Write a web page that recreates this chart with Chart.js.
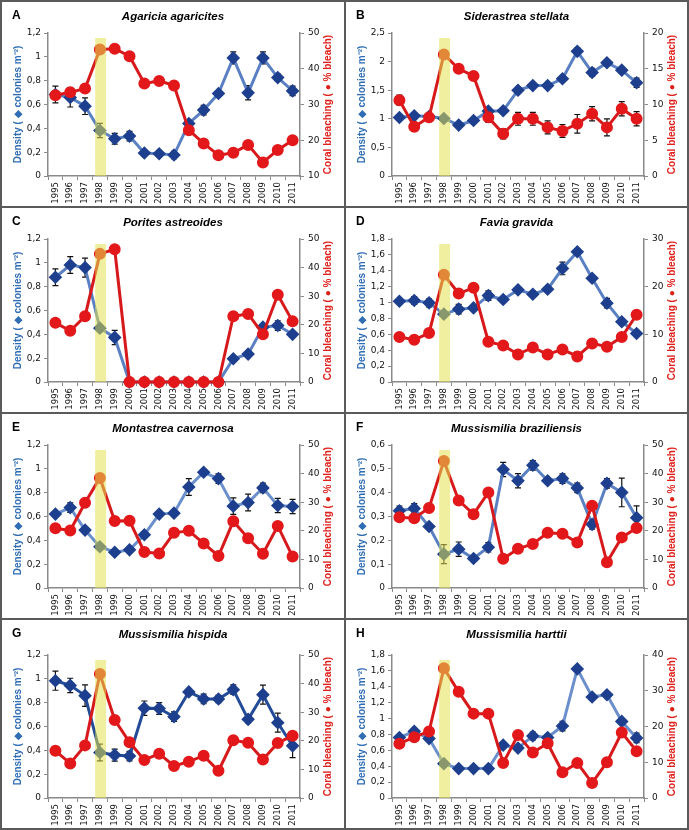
<!DOCTYPE html>
<html>
<head>
<meta charset="utf-8">
<script src="https://cdn.jsdelivr.net/npm/chart.js@4.4.0/dist/chart.umd.min.js"></script>
<style>
  html, body { margin: 0; padding: 0; background: #fff; }
  #wrap { position: relative; width: 689px; height: 830px; overflow: hidden; }
  .ln { position: absolute; background: #5a5a5a; }
  canvas { position: absolute; }
</style>
</head>
<body>
<div id="wrap"></div>
<script>
const years = ['1995','1996','1997','1998','1999','2000','2001','2002','2003','2004','2005','2006','2007','2008','2009','2010','2011'];

// A - Agaricia agaricites
const densA = [0.684,0.659,0.586,0.382,0.313,0.335,0.193,0.187,0.176,0.441,0.553,0.692,0.991,0.698,0.991,0.826,0.714];
const densErrA = [0.07,0.08,0.07,0.06,0.045,0.04,0.015,0.015,0.03,0.02,0.04,0.02,0.05,0.06,0.05,0.03,0.04];
const bleachA = [32.6,33.4,34.5,45.4,45.6,43.5,35.9,36.6,35.3,22.8,19.1,15.8,16.5,18.7,13.8,17.3,20.0];

// B - Siderastrea stellata
const densB = [1.023,1.052,1.04,1.006,0.89,0.97,1.134,1.14,1.5,1.58,1.58,1.70,2.18,1.81,1.98,1.85,1.63];
const densErrB = [0.03,0.05,0.06,0.05,0.03,0.03,0.05,0.04,0.03,0.04,0.02,0.04,0.06,0.07,0.05,0.05,0.08];
const bleachB = [10.6,6.9,8.2,17.0,15.0,14.0,8.2,5.9,8.0,8.0,6.8,6.3,7.3,8.7,6.8,9.4,8.0];
const bleachErrB = [0.7,0.6,0.6,0.5,0.4,0.5,0.7,0.7,0.9,0.9,0.9,0.9,1.3,1.0,1.2,1.0,1.0];

// C - Porites astreoides
const densC = [0.879,0.982,0.96,0.452,0.374,0,0,0,0,0,0,0,0.195,0.234,0.46,0.474,0.40];
const densErrC = [0.07,0.07,0.08,0.03,0.06,0,0,0,0,0,0,0,0.01,0.01,0.02,0.04,0.02];
const bleachC = [20.7,17.9,23.0,44.8,46.4,0,0,0,0,0,0,0,23.0,23.8,16.7,30.5,21.2];

// D - Favia gravida
const densD = [1.017,1.026,0.996,0.854,0.917,0.933,1.088,1.038,1.16,1.105,1.168,1.43,1.64,1.306,0.992,0.758,0.611];
const densErrD = [0.03,0.05,0.05,0.02,0.06,0.03,0.06,0.03,0.02,0.04,0.02,0.08,0.03,0.02,0.06,0.02,0.01];
const bleachD = [9.42,8.86,10.26,22.5,18.56,19.75,8.44,7.68,5.79,7.26,5.79,6.84,5.37,8.1,7.4,9.42,14.1];
const bleachErrD = [0.5,0.6,0.5,0,0,0,0.5,0.6,0.6,0.6,0.6,0.8,0.9,0.7,0.5,0,0];

// E - Montastrea cavernosa
const densE = [0.62,0.675,0.486,0.346,0.30,0.32,0.447,0.62,0.628,0.848,0.971,0.918,0.687,0.717,0.84,0.692,0.684];
const densErrE = [0.01,0.04,0.02,0.02,0.02,0.02,0.01,0.02,0.01,0.07,0.01,0.04,0.07,0.07,0.04,0.06,0.06];
const bleachE = [20.9,20.1,29.8,38.5,23.4,23.5,12.6,12.1,19.3,20.0,15.6,11.2,23.3,17.4,12.0,21.7,11.0];

// F - Mussismilia braziliensis
const densF = [0.324,0.334,0.258,0.142,0.163,0.124,0.171,0.497,0.45,0.515,0.45,0.459,0.42,0.267,0.439,0.401,0.295];
const densErrF = [0.02,0.02,0.01,0.04,0.03,0.005,0.02,0.03,0.03,0.02,0.01,0.02,0.02,0.02,0.02,0.06,0.05];
const bleachF = [24.7,24.4,28.0,44.4,30.6,25.8,33.4,10.2,13.7,15.4,19.3,19.0,15.9,28.8,9.0,17.7,21.0];

// G - Mussismilia hispida
const densG = [0.984,0.945,0.859,0.382,0.36,0.352,0.754,0.751,0.682,0.89,0.831,0.831,0.909,0.66,0.867,0.632,0.438];
const densErrG = [0.08,0.06,0.09,0.07,0.05,0.04,0.06,0.05,0.04,0.01,0.04,0.03,0.04,0.03,0.08,0.08,0.1];
const bleachG = [16.5,12.1,18.4,43.4,27.3,19.5,13.3,15.5,11.2,12.7,14.8,9.5,20.2,19.3,13.5,19.2,21.8];

// H - Mussismilia harttii
const densH = [0.761,0.84,0.748,0.432,0.37,0.37,0.37,0.665,0.628,0.781,0.761,0.906,1.625,1.272,1.30,0.964,0.756];
const densErrH = [0.03,0.02,0.03,0.02,0.03,0.01,0.01,0.01,0.01,0.05,0.04,0.06,0.01,0.01,0.01,0.03,0.06];
const bleachH = [15.2,17.0,18.6,36.3,29.7,23.6,23.6,9.8,17.6,12.7,15.3,7.2,9.8,4.2,10.0,18.3,13.1];
const bleachErrH = [0,0,0,0,0,0,0,0,0,0,0,0,0.8,0.6,0.7,0,0];

const panels = [
  {letter:'A', name:'Agaricia agaricites', dens:densA, dErr:densErrA, bleach:bleachA, bErr:null, y:[0,1.2,0.2], y2:[10,50,10], line:'#5a80c3'},
  {letter:'B', name:'Siderastrea stellata', dens:densB, dErr:densErrB, bleach:bleachB, bErr:bleachErrB, y:[0,2.5,0.5], y2:[0,20,5], line:'#5a80c3'},
  {letter:'C', name:'Porites astreoides', dens:densC, dErr:densErrC, bleach:bleachC, bErr:null, y:[0,1.2,0.2], y2:[0,50,10], line:'#5a80c3'},
  {letter:'D', name:'Favia gravida', dens:densD, dErr:densErrD, bleach:bleachD, bErr:bleachErrD, y:[0,1.8,0.2], y2:[0,30,10], line:'#5a80c3'},
  {letter:'E', name:'Montastrea cavernosa', dens:densE, dErr:densErrE, bleach:bleachE, bErr:null, y:[0,1.2,0.2], y2:[0,50,10], line:'#6a8fcc'},
  {letter:'F', name:'Mussismilia braziliensis', dens:densF, dErr:densErrF, bleach:bleachF, bErr:null, y:[0,0.6,0.1], y2:[0,50,10], line:'#5a80c3'},
  {letter:'G', name:'Mussismilia hispida', dens:densG, dErr:densErrG, bleach:bleachG, bErr:null, y:[0,1.2,0.2], y2:[0,50,10], line:'#234b98'},
  {letter:'H', name:'Mussismilia harttii', dens:densH, dErr:densErrH, bleach:bleachH, bErr:bleachErrH, y:[0,1.8,0.2], y2:[0,40,10], line:'#6a8fcc'}
];

function fmt(v) {
  return String(Number(v.toFixed(2))).replace('.', ',');
}

const errPlugin = {
  id: 'errbars',
  beforeDatasetsDraw(chart) {
    const ctx = chart.ctx;
    ctx.save();
    ctx.strokeStyle = '#111';
    ctx.lineWidth = 1.2;
    chart.data.datasets.forEach((ds, i) => {
      const errs = ds.errs;
      if (!errs) return;
      const meta = chart.getDatasetMeta(i);
      const sc = chart.scales[ds.yAxisID];
      meta.data.forEach((pt, j) => {
        const e = errs[j];
        if (!e) return;
        const v = ds.data[j];
        const y1 = sc.getPixelForValue(v + e), y0 = sc.getPixelForValue(v - e);
        ctx.beginPath();
        ctx.moveTo(pt.x, y0); ctx.lineTo(pt.x, y1);
        ctx.moveTo(pt.x - 3, y0); ctx.lineTo(pt.x + 3, y0);
        ctx.moveTo(pt.x - 3, y1); ctx.lineTo(pt.x + 3, y1);
        ctx.stroke();
      });
    });
    ctx.restore();
  }
};

// yellow 1998 band, drawn over the lines like in the original
const bandPlugin = {
  id: 'band',
  afterDatasetsDraw(chart) {
    const x = chart.scales.x;
    const a = chart.chartArea;
    const step = x.getPixelForValue(1) - x.getPixelForValue(0);
    const cx = x.getPixelForValue(3) + step * 0.05;
    const ctx = chart.ctx;
    ctx.save();
    ctx.fillStyle = 'rgba(225,225,80,0.55)';
    ctx.fillRect(cx - step * 0.37, a.top + 5, step * 0.74, a.bottom - a.top - 5);
    ctx.restore();
  }
};

const textPlugin = {
  id: 'texts',
  afterDraw(chart, args, opts) {
    const ctx = chart.ctx;
    const a = chart.chartArea;
    const midY = (a.top + a.bottom) / 2;
    ctx.save();
    ctx.textBaseline = 'middle';
    ctx.fillStyle = '#000';
    ctx.font = 'bold 12px "Liberation Sans", Arial, sans-serif';
    ctx.textAlign = 'left';
    ctx.fillText(opts.letter, 10, 14);
    ctx.textAlign = 'center';
    ctx.font = 'italic bold 11.5px "Liberation Sans", Arial, sans-serif';
    ctx.fillText(opts.name, chart.width / 2, 15);

    ctx.font = 'bold 10px "Liberation Sans", Arial, sans-serif';
    ctx.save();
    ctx.translate(16, midY);
    ctx.rotate(-Math.PI / 2);
    ctx.fillStyle = '#2f6db5';
    ctx.fillText('Density ( \u25C6 colonies m\u207B\u00B2)', 0, 0);
    ctx.restore();
    ctx.save();
    ctx.translate(a.right + 28, midY);
    ctx.rotate(-Math.PI / 2);
    ctx.fillStyle = '#e0201b';
    ctx.fillText('Coral bleaching ( \u25CF % bleach)', 0, 0);
    ctx.restore();
    ctx.restore();
  }
};

const tickFont = { family: '"DejaVu Sans", Verdana, sans-serif', size: 9 };
const axisGray = '#8a8a8a';

function buildChart(canvas, p, topPad) {
  return new Chart(canvas.getContext('2d'), {
    type: 'line',
    data: {
      labels: years,
      datasets: [
        { label: 'bleach', data: p.bleach, errs: p.bErr, yAxisID: 'y2', borderColor: '#d7191c', borderWidth: 3,
          pointStyle: 'circle', pointRadius: 4.5, pointBackgroundColor: '#e3181a', pointBorderColor: '#e3181a', tension: 0, clip: false },
        { label: 'density', data: p.dens, errs: p.dErr, yAxisID: 'y', borderColor: p.line, borderWidth: 3,
          pointStyle: 'rectRot', pointRadius: 4.7, pointBackgroundColor: '#1d3f8e', pointBorderColor: '#1d3f8e', tension: 0, clip: false }
      ]
    },
    options: {
      responsive: false,
      animation: false,
      events: [],
      layout: { padding: { top: topPad, left: 0, right: 0, bottom: 0 } },
      plugins: { legend: { display: false }, tooltip: { enabled: false }, texts: { letter: p.letter, name: p.name } },
      scales: {
        x: {
          offset: true,
          grid: { offset: true, drawOnChartArea: false, drawTicks: true, tickLength: 4, color: axisGray },
          border: { color: axisGray, width: 1.5 },
          ticks: { autoSkip: false, maxRotation: 90, minRotation: 90, padding: 2, color: '#111', font: { family: tickFont.family, size: 8.5 } },
          afterFit(s) { s.height = 30; }
        },
        y: {
          position: 'left', min: p.y[0], max: p.y[1],
          grid: { drawOnChartArea: false, drawTicks: true, tickLength: 4, color: axisGray },
          border: { color: axisGray, width: 1.5 },
          ticks: { stepSize: p.y[2], padding: 3, color: '#111', font: tickFont, callback: v => fmt(v) },
          afterFit(s) { s.width = 46; }
        },
        y2: {
          position: 'right', min: p.y2[0], max: p.y2[1],
          grid: { drawOnChartArea: false, drawTicks: true, tickLength: 4, color: axisGray },
          border: { color: axisGray, width: 1.5 },
          ticks: { stepSize: p.y2[2], padding: 4, color: '#111', font: tickFont, callback: v => fmt(v) },
          afterFit(s) { s.width = canvas.width - 298; }
        }
      }
    },
    plugins: [errPlugin, bandPlugin, textPlugin]
  });
}

const wrap = document.getElementById('wrap');
function line(x, y, w, h) {
  const d = document.createElement('div');
  d.className = 'ln';
  d.style.left = x + 'px'; d.style.top = y + 'px'; d.style.width = w + 'px'; d.style.height = h + 'px';
  wrap.appendChild(d);
}
// panel frame
[0, 344, 687].forEach(x => line(x, 0, 2, 830));
[0, 206, 412, 618, 828].forEach(y => line(0, y, 689, 2));

const colX = [2, 346], colW = [342, 341];
const rowY = [2, 208, 414, 620], rowH = [204, 204, 204, 208];

panels.forEach((p, i) => {
  const c = i % 2, r = Math.floor(i / 2);
  const cv = document.createElement('canvas');
  cv.width = colW[c]; cv.height = rowH[r];
  cv.style.left = colX[c] + 'px'; cv.style.top = rowY[r] + 'px';
  wrap.appendChild(cv);
  buildChart(cv, p, rowH[r] - 30 - 143);
});
</script>
</body>
</html>
